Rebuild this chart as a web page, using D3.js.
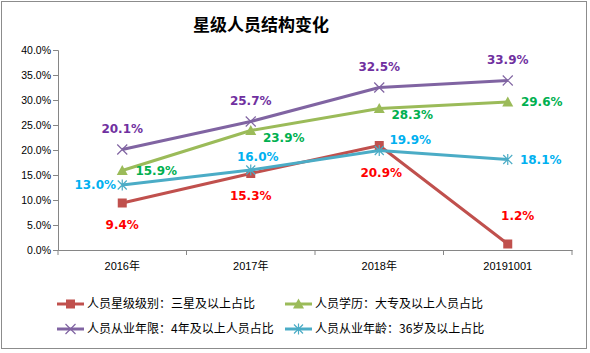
<!DOCTYPE html>
<html><head><meta charset="utf-8">
<script src="https://cdn.jsdelivr.net/npm/d3@7"></script>
<style>
html,body{margin:0;padding:0;background:#fff;}
svg{display:block;}
</style></head>
<body>
<svg id="chart" width="590" height="353"></svg>
<script>
// ---- data ----
const categories = ["2016年", "2017年", "2018年", "20191001"];
const starLevel   = [9.4, 15.3, 20.9, 1.2];
const education   = [15.9, 23.9, 28.3, 29.6];
const seniority   = [20.1, 25.7, 32.5, 33.9];
const ageOver36   = [13.0, 16.0, 19.9, 18.1];
const seriesNames = ["人员星级级别：三星及以上占比", "人员学历：大专及以上人员占比", "人员从业年限：4年及以上人员占比", "人员从业年龄：36岁及以上占比"];
const yTicks = [0, 5, 10, 15, 20, 25, 30, 35, 40];
const title = "星级人员结构变化";

// ---- styling ----
const series = [
  {name: seriesNames[0], values: starLevel, line: "#C0504D", label: "#FF0000", marker: "square",
   off: [[0,22],[0,22],[2,27],[10,-28]]},
  {name: seriesNames[1], values: education, line: "#9BBB59", label: "#00B050", marker: "triangle",
   off: [[34,0],[33,7],[33,6],[34,0]]},
  {name: seriesNames[2], values: seniority, line: "#8064A2", label: "#7030A0", marker: "x",
   off: [[0,-21],[0,-21],[0,-21],[0,-21]]},
  {name: seriesNames[3], values: ageOver36, line: "#4BACC6", label: "#00B0F0", marker: "star",
   off: [[-27,0],[7,-13],[31,-11],[33,0]]}
];

const svg = d3.select("#chart");
svg.append("rect").attr("x",1.5).attr("y",1.5).attr("width",585).attr("height",347)
  .attr("fill","#fff").attr("stroke","#8c8c8c").attr("stroke-width",1);

const plot = {left: 58, right: 572, top: 50, bottom: 250};
const x = d3.scaleBand().domain(categories).range([plot.left, plot.right]);
const y = d3.scaleLinear().domain([0, 40]).range([plot.bottom, plot.top]);

svg.append("text").attr("x", 261).attr("y", 31).attr("text-anchor","middle")
  .attr("font-family","'Noto Sans CJK SC', sans-serif").attr("font-weight","bold")
  .attr("font-size",17).attr("fill","#000").text(title);

// y axis
const yAxis = d3.axisLeft(y).tickValues(yTicks).tickSize(5).tickFormat(d => d.toFixed(1) + "%");
const gy = svg.append("g").attr("transform", `translate(${plot.left},0)`).call(yAxis);
gy.select(".domain").attr("stroke","#868686");
gy.selectAll(".tick line").attr("stroke","#868686");
gy.selectAll(".tick text").attr("font-family","'Liberation Sans', Arial, sans-serif").attr("font-size",10.5)
  .attr("fill","#000").attr("x",-7);

// x axis
const xAxis = d3.axisBottom(x).tickSize(0).tickPadding(12);
const gx = svg.append("g").attr("transform", `translate(0,${plot.bottom})`).call(xAxis);
gx.select(".domain").attr("stroke","#868686");
gx.selectAll(".tick text").attr("font-family","'Liberation Sans','Noto Sans CJK SC', sans-serif")
  .attr("font-size",11).attr("fill","#000");
const bounds = categories.map(c => x(c)).concat([plot.right]);
gx.selectAll("line.sep").data(bounds).enter().append("line").attr("class","sep")
  .attr("x1", d => d).attr("x2", d => d).attr("y1", 0).attr("y2", 5).attr("stroke","#868686");

const cx = c => x(c) + x.bandwidth() / 2;
const lineGen = d3.line().x((d,i) => cx(categories[i])).y(d => y(d));

function drawMarker(g, type, px, py, color) {
  if (type === "square") {
    g.append("rect").attr("x", px-4.5).attr("y", py-4.5).attr("width",9).attr("height",9).attr("fill", color);
  } else if (type === "triangle") {
    g.append("path").attr("d", `M${px},${py-5.5}L${px+5.5},${py+4.5}L${px-5.5},${py+4.5}Z`).attr("fill", color);
  } else if (type === "x") {
    g.append("path").attr("d", `M${px-5},${py-5}L${px+5},${py+5}M${px-5},${py+5}L${px+5},${py-5}`)
      .attr("stroke", color).attr("stroke-width",1.2).attr("fill","none");
  } else if (type === "star") {
    g.append("path").attr("d", `M${px-4.5},${py-4.5}L${px+4.5},${py+4.5}M${px-4.5},${py+4.5}L${px+4.5},${py-4.5}M${px},${py-5.5}L${px},${py+5.5}`)
      .attr("stroke", color).attr("stroke-width",1.2).attr("fill","none");
  }
}

const draw = [series[0], series[3], series[1], series[2]];
draw.forEach(s => {
  const g = svg.append("g");
  g.append("path").attr("d", lineGen(s.values)).attr("fill","none").attr("stroke", s.line)
    .attr("stroke-width", 3).attr("stroke-linejoin","round");
  s.values.forEach((v,i) => drawMarker(g, s.marker, cx(categories[i]), y(v), s.line));
});
series.forEach(s => {
  s.values.forEach((v,i) => {
    svg.append("text").attr("x", cx(categories[i]) + s.off[i][0]).attr("y", y(v) + s.off[i][1])
      .attr("dy","0.35em").attr("text-anchor","middle")
      .attr("font-family","'DejaVu Sans', Verdana, sans-serif").attr("font-weight","bold").attr("font-size",12)
      .attr("fill", s.label).text(v.toFixed(1) + "%");
  });
});

// legend
const legendPos = [[57,304],[285,304],[57,329],[285,329]];
series.forEach((s,i) => {
  const [lx, ly] = legendPos[i];
  const g = svg.append("g");
  g.append("line").attr("x1", lx).attr("x2", lx+27).attr("y1", ly).attr("y2", ly)
    .attr("stroke", s.line).attr("stroke-width", 3);
  drawMarker(g, s.marker, lx+13.5, ly, s.line);
  g.append("text").attr("x", lx+30).attr("y", ly).attr("dy","0.35em")
    .attr("font-family","'Noto Sans CJK SC', sans-serif").attr("font-size",12).attr("fill","#000").text(s.name);
});
</script>
</body></html>
